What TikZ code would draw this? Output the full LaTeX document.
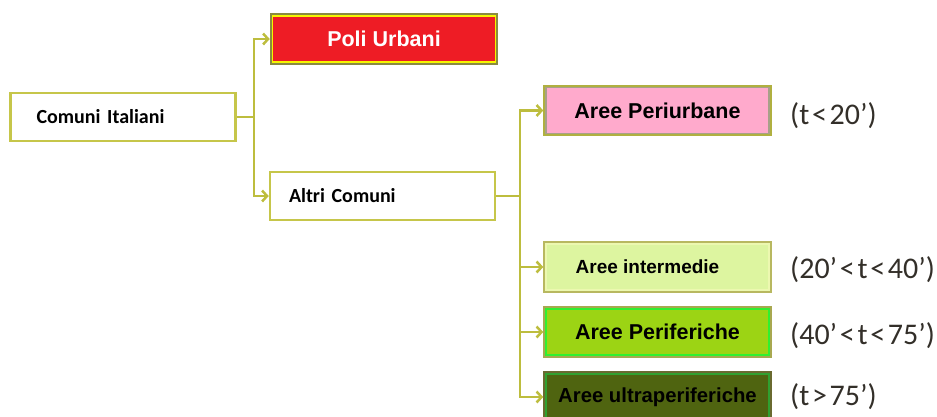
\documentclass[tikz,border=0pt]{standalone}
\usepackage{fontspec}
\usepackage{tikz}
\usepackage{xcolor}
\usetikzlibrary{arrows.meta, calc, positioning}
\newfontfamily\calibfont{Carlito}
\newfontfamily\condfont[WordSpace=0.4]{Carlito}
\newfontfamily\arialfont{Liberation Sans}
\definecolor{linkcol}{HTML}{BDBD3E}
\definecolor{plainline}{HTML}{C6C64A}
\definecolor{poliout}{HTML}{8A8A40}
\definecolor{poliin}{HTML}{F5F500}
\definecolor{polifill}{HTML}{EE1C25}
\definecolor{periout}{HTML}{B0B040}
\definecolor{periin}{HTML}{A8A088}
\definecolor{perifill}{HTML}{FFAACC}
\definecolor{intout}{HTML}{B8B860}
\definecolor{intin}{HTML}{ECF8B0}
\definecolor{intfill}{HTML}{DDF5A0}
\definecolor{perifout}{HTML}{A8A850}
\definecolor{perifin}{HTML}{30F030}
\definecolor{periffill}{HTML}{9CD414}
\definecolor{ultraout}{HTML}{6A6A30}
\definecolor{ultrain}{HTML}{30A030}
\definecolor{ultrafill}{HTML}{4F6410}
\tikzset{
  box/.style={
    draw, line width=3.5pt,
    minimum width=225pt, minimum height=48pt, inner sep=0pt,
    font=\arialfont\bfseries\fontsize{21.5}{24}\selectfont,
  },
  plain/.style={
    box, fill=white, draw=plainline, line width=2.5pt, text=black,
    align=left, font=\calibfont\bfseries\fontsize{20}{24}\selectfont,
  },
  poli/.style={box, fill=polifill, draw=poliout, text=white},
  periurb/.style={box, fill=perifill, draw=periout},
  interm/.style={box, fill=intfill, draw=intout, font=\arialfont\bfseries\fontsize{19}{22}\selectfont},
  perif/.style={box, fill=periffill, draw=perifout},
  ultra/.style={box, fill=ultrafill, draw=ultraout, font=\arialfont\bfseries\fontsize{20.3}{23}\selectfont},
  link/.style={line width=2.5pt, linkcol},
  arr/.style={link, -{Straight Barb[length=5pt, width=11pt]}},
  cond/.style={anchor=west, inner sep=0pt, text=black!85!olive, font=\condfont\fontsize{30}{32}\selectfont},
}
\begin{document}
\begin{tikzpicture}[x=1pt, y=-1pt]
\useasboundingbox (0,0) rectangle (937,416);

% ── left column ────────────────────────────────────────────────
\node[plain, inner xsep=26pt, text width=173pt] (comuni) at (123, 117) {Comuni Italiani};

% ── first split ────────────────────────────────────────────────
\node[poli]  (poli)  at (384, 39) {Poli Urbani};
\node[plain, inner xsep=19pt, text width=187pt] (altri) at (382.5, 196) {Altri Comuni};

% ── classes of Altri Comuni ───────────────────────────────────
\node[periurb] (periurb) at (657.5, 110.5) {Aree Periurbane};
\node[interm]  (interm)  at (657.5, 267) {\hspace*{-20pt}Aree intermedie};
\node[perif]   (perif)   at (657.5, 332) {Aree Periferiche};
\node[ultra]   (ultra)   at (657.5, 397) {Aree ultraperiferiche};

% inner rims of the coloured boxes
\foreach \n/\c in {poli/poliin, periurb/periin, interm/intin, perif/perifin, ultra/ultrain}
  \draw[\c, line width=1.2pt] ([xshift=2.8pt, yshift=-2.8pt]\n.north west)
    rectangle ([xshift=-2.8pt, yshift=2.8pt]\n.south east);

% ── travel-time labels ────────────────────────────────────────
\node[cond] (c1) at (790, 116) {(t < 20’)};
\node[cond] (c2) at (790, 270) {(20’ < t < 40’)};
\node[cond] (c3) at (790, 336) {(40’ < t < 75’)};
\node[cond] (c4) at (790, 397) {(t > 75’)};

% ── connectors ────────────────────────────────────────────────
\coordinate (lbus) at (254, 117);
\draw[link] (comuni.east) -- (lbus);
\draw[arr] (lbus) |- (poli.west);
\draw[arr] (lbus) |- (altri.west);

\coordinate (rbus) at (520, 196);
\draw[link] (altri.east) -- (rbus);
\draw[arr] (rbus) |- (periurb.west);
\draw[arr] (rbus) |- (interm.west);
\draw[arr] (rbus) |- (perif.west);
\draw[arr] (rbus) |- (ultra.west);

\end{tikzpicture}
\end{document}
